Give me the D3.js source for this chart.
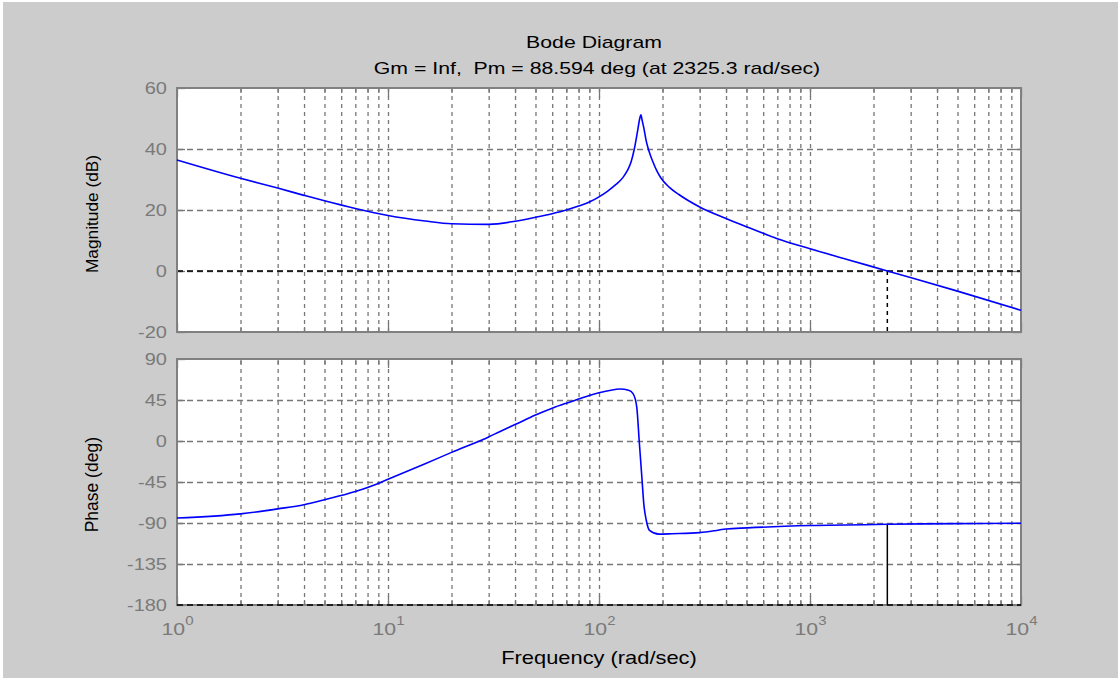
<!DOCTYPE html>
<html><head><meta charset="utf-8">
<script src="https://cdn.jsdelivr.net/npm/d3@7"></script>
<style>
html,body{margin:0;padding:0;background:#fff;}
svg{display:block;}
text{font-family:Arial,"Liberation Sans",sans-serif;white-space:pre;}
</style>
</head><body>
<svg id="chart" width="1118" height="678"></svg>
<script>
// ---- data ----
const magFreq = [1, 2, 3, 4, 5, 7, 10, 15, 20, 30, 40, 50, 60, 70, 80, 90, 100, 110, 120, 130, 136, 142, 147, 152, 156, 158, 160, 163, 167, 170, 175, 180, 188, 197, 215, 240, 300, 400, 500, 700, 1000, 1500, 2325.3, 5000, 10000];
const magDb   = [36.4, 30.4, 27.2, 24.8, 23.0, 20.5, 18.2, 16.4, 15.5, 15.3, 16.3, 17.6, 18.8, 20.0, 21.3, 22.6, 24.3, 26.2, 28.3, 30.7, 32.8, 35.8, 40.0, 45.5, 50.0, 51.2, 49.5, 47.0, 43.0, 40.8, 38.0, 35.8, 32.8, 30.4, 27.5, 25.0, 21.0, 17.2, 14.5, 10.6, 7.3, 3.8, 0.0, -6.6, -12.9];
const phaseFreq = [1, 2, 3, 4, 5, 7, 8, 10, 15, 20, 30, 34, 40, 50, 60, 70, 80, 90, 100, 112, 126, 138, 145, 151, 155, 160, 163, 167.5, 173.5, 192.5, 222, 300, 360, 400, 505, 1000, 2325.3, 5000, 10000];
const phaseDeg  = [-84.5, -80.0, -74.5, -70.0, -64.5, -55.5, -51.0, -42.0, -25.0, -12.5, 4.5, 10.5, 18.0, 28.5, 36.0, 41.5, 46.0, 50.0, 53.0, 55.5, 57.0, 55.7, 52.0, 37.3, 0.8, -43.0, -68.7, -87.0, -98.0, -102.2, -101.8, -100.6, -98.2, -96.5, -95.3, -92.8, -91.406, -90.7, -90.3];
const magTicks = [-20, 0, 20, 40, 60];
const phaseTicks = [-180, -135, -90, -45, 0, 45, 90];
const decadeTicks = [1, 10, 100, 1000, 10000];
const titleText = "Bode Diagram";
const subtitleText = "Gm = Inf,  Pm = 88.594 deg (at 2325.3 rad/sec)";
const xLabelText = "Frequency (rad/sec)";
const magLabelText = "Magnitude (dB)";
const phaseLabelText = "Phase (deg)";
const crossoverFreq = 2325.3;
const crossoverPhase = -91.406;

// ---- layout ----
const W = 1118, H = 678;
const L = 177, R = 1021;
const SX = 1.25;
const GRID = "#777777", TEXTGRAY = "#7a7a7a";

const svg = d3.select("#chart");
svg.append("rect").attr("width", W).attr("height", H).attr("fill", "#fff");
svg.append("rect").attr("x", 3).attr("y", 2).attr("width", W - 3).attr("height", H - 2).attr("fill", "#cccccc");

const x = d3.scaleLog().domain([1, 10000]).range([L, R]);
const yMag = d3.scaleLinear().domain([-20, 60]).range([332, 88]);
const yPh = d3.scaleLinear().domain([-180, 90]).range([605, 359]);

function panel(y, ticks) {
  const g = svg.append("g");
  const yb = y.range()[0], yt = y.range()[1];
  g.append("rect").attr("x", L).attr("y", yt).attr("width", R - L).attr("height", yb - yt).attr("fill", "#fff");
  const inner = x.ticks().filter(v => v > 1 && v < 10000);
  g.append("g").attr("transform", `translate(0,${yb})`)
    .call(d3.axisBottom(x).tickValues(inner).tickSize(-(yb - yt)).tickFormat(""))
    .call(s => { s.select(".domain").remove();
      s.selectAll("line").attr("stroke", GRID).attr("stroke-width", 1.3).attr("stroke-dasharray", "4,4"); });
  g.append("g").attr("transform", `translate(${L},0)`)
    .call(d3.axisLeft(y).tickValues(ticks.slice(1, -1)).tickSize(-(R - L)).tickFormat(""))
    .call(s => { s.select(".domain").remove();
      s.selectAll("line").attr("stroke", GRID).attr("stroke-width", 1.3).attr("stroke-dasharray", "6,4"); });
  const minorT = inner.filter(v => !decadeTicks.includes(v));
  [[yb, d3.axisTop], [yt, d3.axisBottom]].forEach(([yy, ax]) => {
    g.append("g").attr("transform", `translate(0,${yy})`)
      .call(ax(x).tickValues(decadeTicks).tickSize(9).tickFormat(""))
      .call(s => { s.select(".domain").remove(); s.selectAll("line").attr("stroke", GRID).attr("stroke-width", 1.3); });
    g.append("g").attr("transform", `translate(0,${yy})`)
      .call(ax(x).tickValues(minorT).tickSize(5).tickFormat(""))
      .call(s => { s.select(".domain").remove(); s.selectAll("line").attr("stroke", GRID).attr("stroke-width", 1.3); });
  });
  [[L, d3.axisRight], [R, d3.axisLeft]].forEach(([xx, ax]) => {
    g.append("g").attr("transform", `translate(${xx},0)`)
      .call(ax(y).tickValues(ticks).tickSize(8).tickFormat(""))
      .call(s => { s.select(".domain").remove(); s.selectAll("line").attr("stroke", GRID).attr("stroke-width", 1.3); });
  });
  g.append("g").attr("transform", `translate(${L},0)`)
    .call(d3.axisLeft(y).tickValues(ticks).tickSize(0).tickFormat(d => String(d)))
    .call(s => { s.select(".domain").remove();
      s.selectAll("text").attr("x", 0).attr("dy", null)
        .attr("transform", `translate(-10,5.7) scale(${SX},1)`)
        .attr("font-size", 16).attr("fill", TEXTGRAY).attr("font-family", "Arial, 'Liberation Sans', sans-serif"); });
  return g;
}

const gMag = panel(yMag, magTicks);
const gPh = panel(yPh, phaseTicks);

gMag.append("line").attr("x1", L).attr("x2", R).attr("y1", yMag(0)).attr("y2", yMag(0))
  .attr("stroke", "#000").attr("stroke-width", 1.3).attr("stroke-dasharray", "6,4");

[[gMag, yMag], [gPh, yPh]].forEach(([g, y]) => {
  g.append("rect").attr("x", L).attr("y", y.range()[1]).attr("width", R - L).attr("height", y.range()[0] - y.range()[1])
    .attr("fill", "none").attr("stroke", "#808080").attr("stroke-width", 2);
});
gPh.append("line").attr("x1", L).attr("x2", R).attr("y1", yPh(-180)).attr("y2", yPh(-180))
  .attr("stroke", "#000").attr("stroke-width", 1.5).attr("stroke-dasharray", "6,4");

gMag.append("line").attr("x1", x(crossoverFreq)).attr("x2", x(crossoverFreq))
  .attr("y1", yMag(0)).attr("y2", yMag(-20))
  .attr("stroke", "#000").attr("stroke-width", 1.5).attr("stroke-dasharray", "4,4");
gPh.append("line").attr("x1", x(crossoverFreq)).attr("x2", x(crossoverFreq))
  .attr("y1", yPh(crossoverPhase)).attr("y2", yPh(-180))
  .attr("stroke", "#000").attr("stroke-width", 1.5);

const magLine = d3.line().x((d, i) => x(magFreq[i])).y(d => yMag(d)).curve(d3.curveMonotoneX);
gMag.append("path").datum(magDb).attr("d", magLine).attr("fill", "none").attr("stroke", "#0000ff").attr("stroke-width", 1.6);
const phLine = d3.line().x((d, i) => x(phaseFreq[i])).y(d => yPh(d)).curve(d3.curveMonotoneX);
gPh.append("path").datum(phaseDeg).attr("d", phLine).attr("fill", "none").attr("stroke", "#0000ff").attr("stroke-width", 1.6);

const xl = gPh.append("g").attr("transform", `translate(0,${yPh(-180)})`)
  .call(d3.axisBottom(x).tickValues(decadeTicks).tickSize(0).tickFormat(""));
xl.select(".domain").remove();
xl.selectAll(".tick").each(function(d) {
  const t = d3.select(this).append("text")
    .attr("transform", `translate(0,30) scale(${SX},1)`)
    .attr("text-anchor", "middle").attr("fill", TEXTGRAY).attr("font-size", 17);
  t.append("tspan").text("10");
  t.append("tspan").attr("dy", -10).attr("font-size", 12).text(String(Math.round(Math.log10(d))));
});

function stretched(txt, cx, cy, size) {
  svg.append("text").attr("transform", `translate(${cx},${cy}) scale(${SX},1)`)
    .attr("text-anchor", "middle").attr("font-size", size).attr("fill", "#000").text(txt);
}
stretched(titleText, 594, 47.5, 17);
stretched(subtitleText, 597, 74, 17);
stretched(xLabelText, 599, 663.5, 17.5);

svg.append("text").attr("transform", `translate(97.5,214) rotate(-90)`).attr("text-anchor", "middle")
  .attr("font-size", 17.3).attr("fill", "#000").text(magLabelText);
svg.append("text").attr("transform", `translate(97.5,484.7) rotate(-90)`).attr("text-anchor", "middle")
  .attr("font-size", 17.5).attr("fill", "#000").text(phaseLabelText);
</script>
</body></html>
